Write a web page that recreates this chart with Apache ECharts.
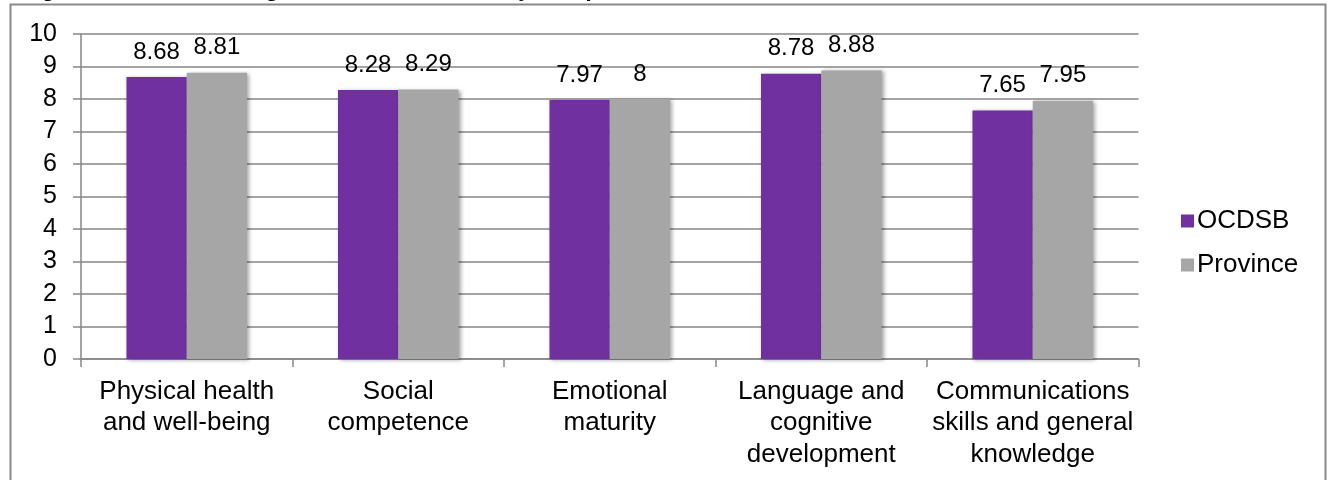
<!DOCTYPE html>
<html>
<head>
<meta charset="utf-8">
<script src="https://cdn.jsdelivr.net/npm/echarts@6/dist/echarts.min.js"></script>
<style>
  html, body { margin: 0; padding: 0; background: #fff; }
  #chart { width: 1335px; height: 480px; }
</style>
</head>
<body>
<div id="chart"></div>
<script>
// EDI domain scores, board vs province
const categories = [
  'Physical health\nand well-being',
  'Social\ncompetence',
  'Emotional\nmaturity',
  'Language and\ncognitive\ndevelopment',
  'Communications\nskills and general\nknowledge'
];
const ocdsb = [8.68, 8.28, 7.97, 8.78, 7.65];
const province = [8.81, 8.29, 8.0, 8.88, 7.95];
const seriesNames = ['OCDSB', 'Province'];
const titleText = 'Figure 3: Senior Kindergarten Domain Scores by Comparison';

const FONT = '"Liberation Sans", Arial, sans-serif';
const AXIS_GREY = '#868686';

const chart = echarts.init(document.getElementById('chart'), null, { renderer: 'canvas' });

const barShadow = {
  shadowColor: 'rgba(0,0,0,0.35)',
  shadowBlur: 4,
  shadowOffsetX: 2,
  shadowOffsetY: 1
};

const valueLabel = {
  show: true,
  position: 'top',
  distance: 13,
  color: '#000',
  fontFamily: FONT,
  fontSize: 24,
  formatter: p => String(p.value)
};

chart.setOption({
  animation: false,
  backgroundColor: '#fff',
  graphic: [
    {
      type: 'rect',
      silent: true,
      shape: { x: 10.5, y: 4.5, width: 1315, height: 520 },
      style: { fill: 'none', stroke: '#898989', lineWidth: 2 }
    },
    {
      // title sits mostly above the top edge of the frame
      type: 'text',
      silent: true,
      x: 22,
      y: 1,
      style: {
        text: titleText,
        font: 'bold 22px ' + FONT,
        fill: '#000',
        verticalAlign: 'bottom'
      }
    }
  ],
  legend: {
    orient: 'vertical',
    left: 1181,
    top: 208,
    padding: 0,
    itemWidth: 13,
    itemHeight: 13,
    itemGap: 18,
    icon: 'rect',
    textStyle: { fontFamily: FONT, fontSize: 26, color: '#000', padding: [0, 0, 0, -2] },
    data: seriesNames
  },
  grid: { left: 81, right: 196.5, top: 34, bottom: 121, containLabel: false },
  xAxis: {
    type: 'category',
    data: categories,
    axisLine: { lineStyle: { color: AXIS_GREY, width: 1.5 } },
    axisTick: { show: true, length: 8, lineStyle: { color: AXIS_GREY, width: 1.5 } },
    axisLabel: {
      interval: 0,
      margin: 17,
      color: '#000',
      fontFamily: FONT,
      fontSize: 26,
      lineHeight: 31.5,
      align: 'center'
    }
  },
  yAxis: {
    type: 'value',
    min: 0,
    max: 10,
    interval: 1,
    axisLine: { show: true, lineStyle: { color: AXIS_GREY, width: 1.5 } },
    axisTick: { show: true, length: 8, lineStyle: { color: AXIS_GREY, width: 1.5 } },
    splitLine: { lineStyle: { color: AXIS_GREY, width: 1.5 } },
    axisLabel: {
      margin: 24,
      color: '#000',
      fontFamily: FONT,
      fontSize: 25
    }
  },
  series: [
    {
      name: seriesNames[0],
      type: 'bar',
      data: ocdsb,
      barGap: '0%',
      barCategoryGap: '43%',
      itemStyle: Object.assign({ color: '#7030A0' }, barShadow),
      label: valueLabel
    },
    {
      name: seriesNames[1],
      type: 'bar',
      data: province,
      barGap: '0%',
      barCategoryGap: '43%',
      itemStyle: Object.assign({ color: '#A6A6A6' }, barShadow),
      label: valueLabel
    }
  ]
});
</script>
</body>
</html>
